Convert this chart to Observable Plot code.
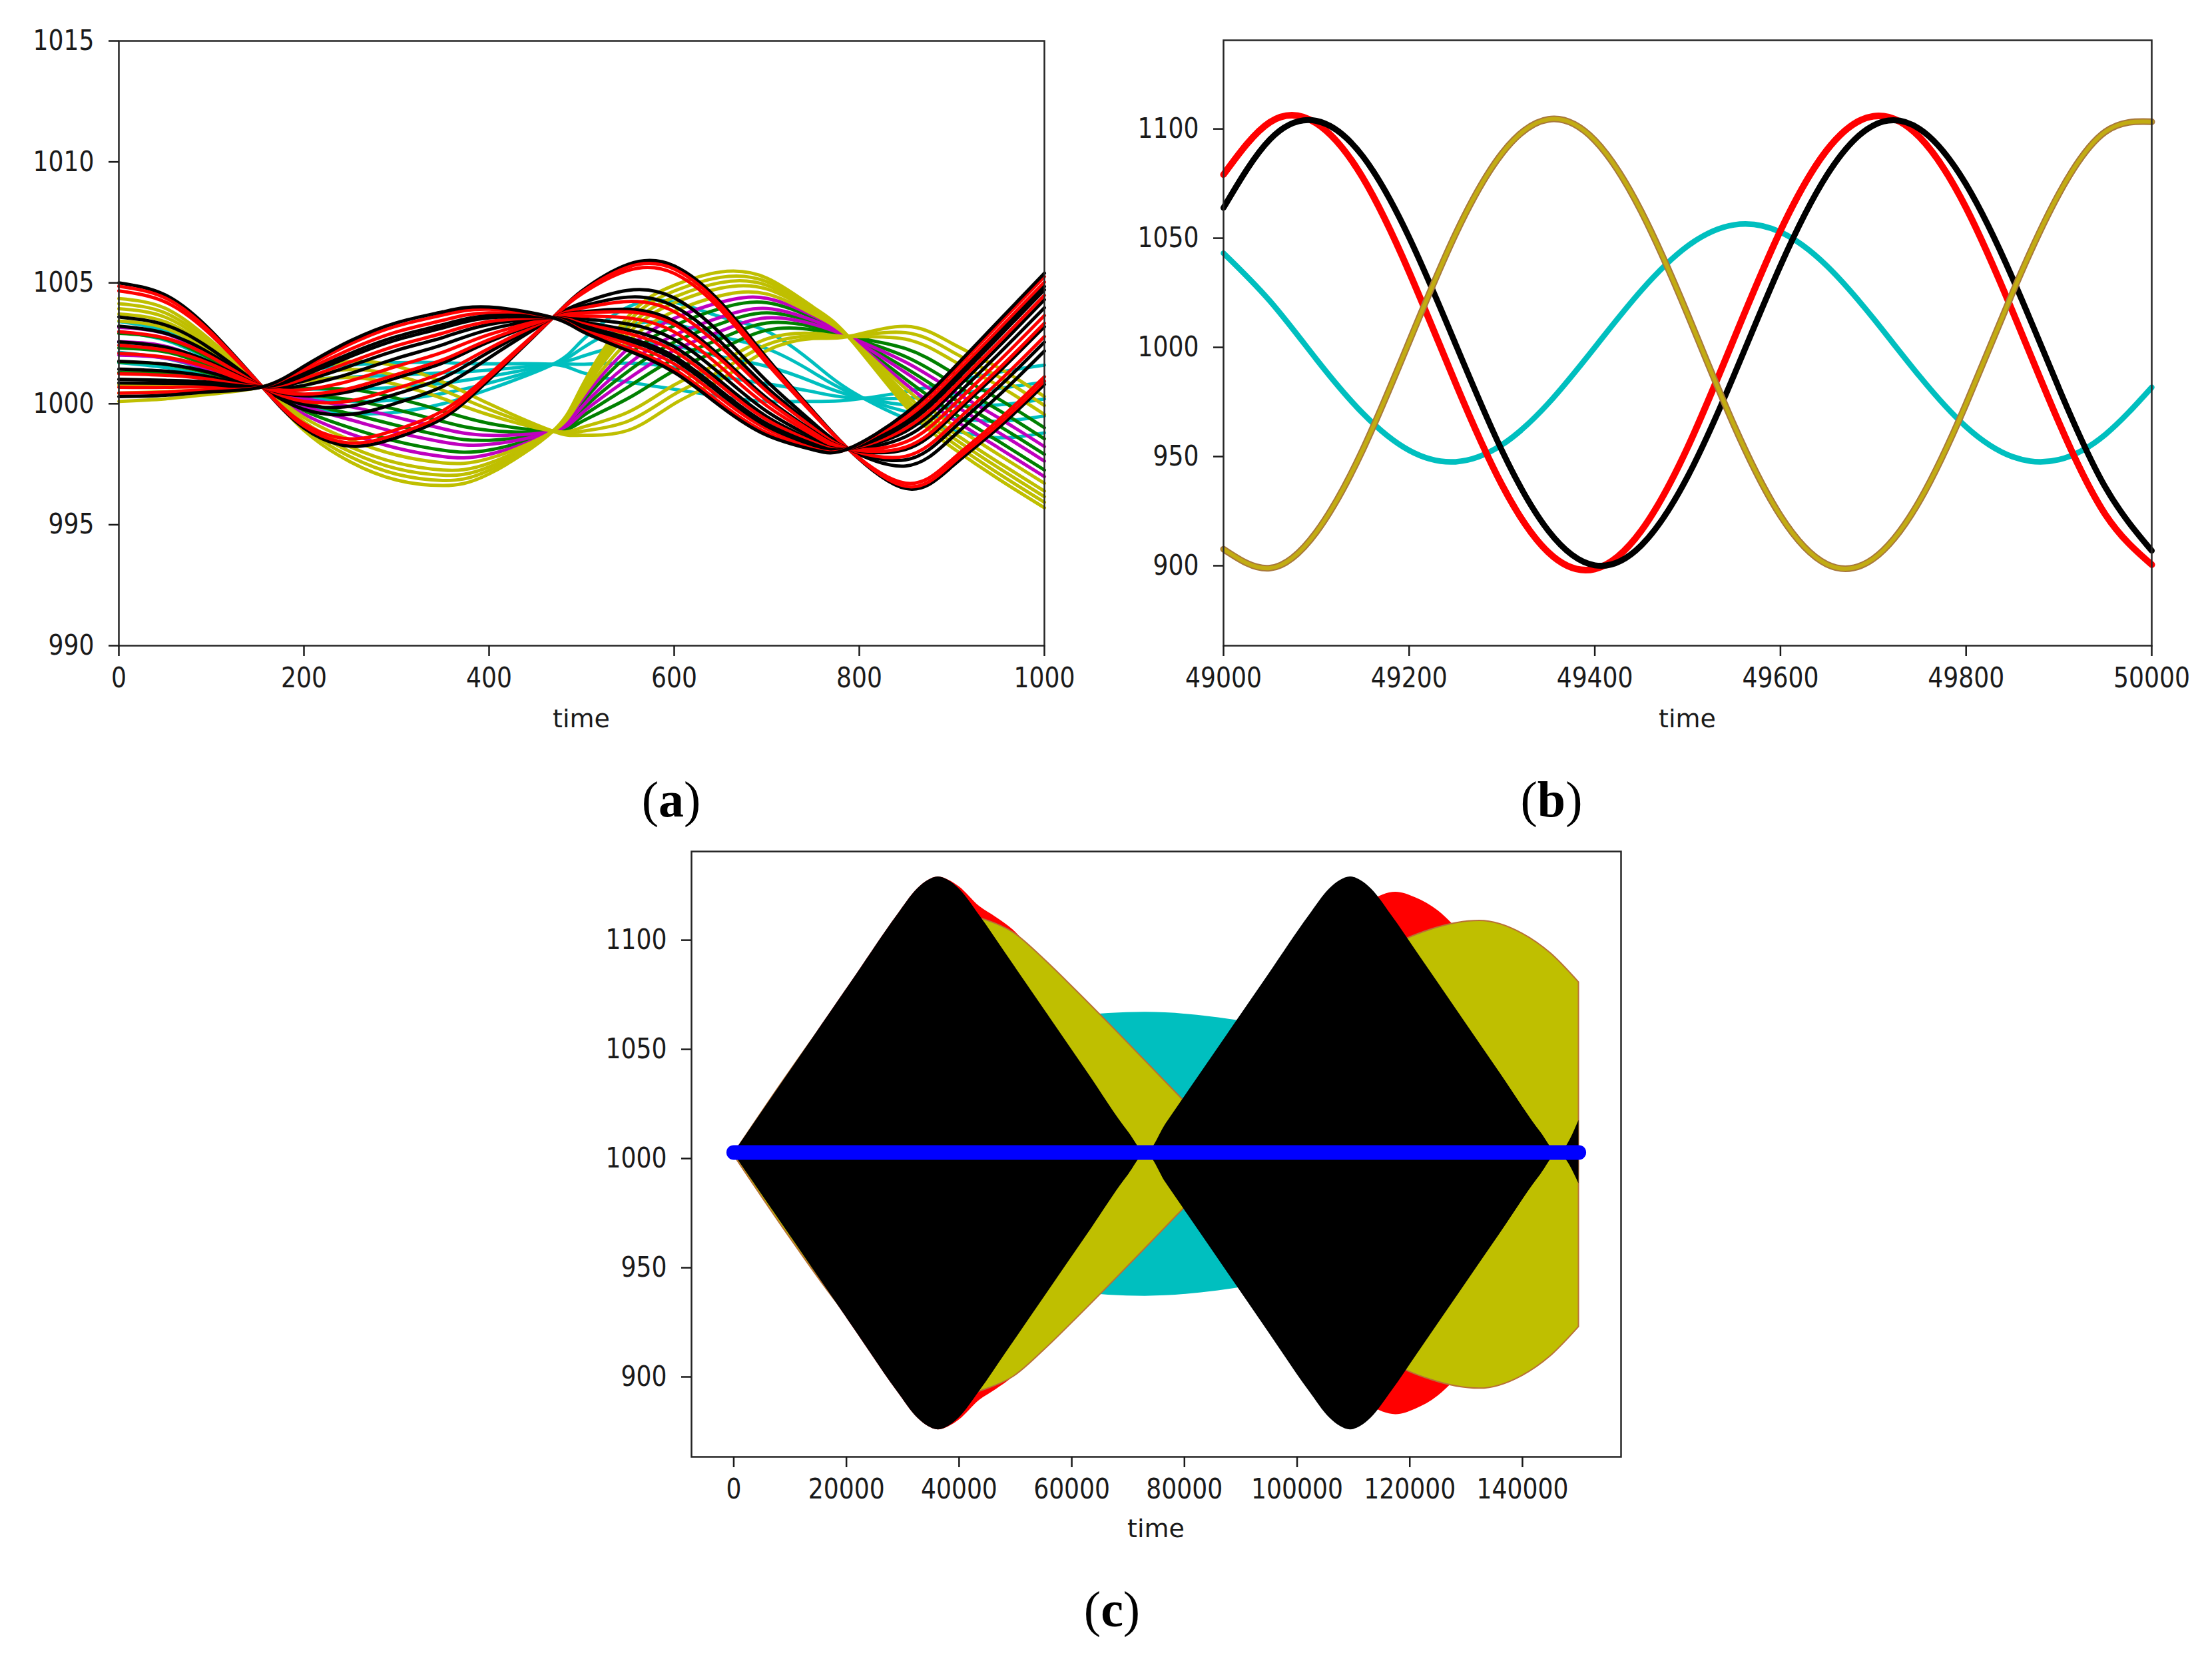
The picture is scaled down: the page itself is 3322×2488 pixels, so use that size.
<!DOCTYPE html>
<html><head><meta charset="utf-8">
<script src="https://cdn.jsdelivr.net/npm/d3@7"></script>
<script src="https://cdn.jsdelivr.net/npm/@observablehq/plot@0.6"></script>
<style>
html,body{margin:0;padding:0;background:#fff;}
#root{position:relative;width:3322px;height:2488px;background:#fff;overflow:hidden;}
#root svg{position:absolute;}
</style></head><body><div id="root"></div>
<script>
// ---------------- Panel (a) data ----------------
const aTime = [0,50,100,155,200,250,300,350,400,469,500,550,600,650,700,750,788,850,900,950,1000];
const aXTicks = [0,200,400,600,800,1000];
const aYTicks = [990,995,1000,1005,1010,1015];
const aBlackLines = [
 [1005.0,1004.5,1003.0,1000.7,999.0,998.25,998.6,999.4,1001.0,1003.56,1004.66,1005.76,1005.7,1004.2,1001.9,999.7,998.14,996.5,997.4,999.0,1000.8],
 [1003.59,1003.26,1002.25,1000.7,999.77,999.56,1000.03,1000.72,1001.9,1003.56,1004.16,1004.69,1004.38,1002.91,1000.94,999.22,998.14,997.43,998.6,1000.32,1002.18],
 [1003.21,1002.92,1002.05,1000.7,999.97,999.9,1000.41,1001.07,1002.14,1003.56,1004.03,1004.41,1004.03,1002.57,1000.68,999.09,998.14,997.68,998.92,1000.67,1002.55],
 [1002.56,1002.34,1001.7,1000.7,1000.33,1000.51,1001.07,1001.69,1002.56,1003.56,1003.8,1003.91,1003.41,1001.96,1000.24,998.87,998.14,998.11,999.48,1001.29,1003.19],
 [1001.76,1001.64,1001.28,1000.7,1000.76,1001.25,1001.88,1002.44,1003.07,1003.56,1003.52,1003.3,1002.66,1001.23,999.69,998.6,998.14,998.64,1000.16,1002.04,1003.97],
 [1001.43,1001.35,1001.1,1000.7,1000.94,1001.56,1002.21,1002.74,1003.28,1003.56,1003.4,1003.05,1002.36,1000.93,999.47,998.48,998.14,998.86,1000.44,1002.34,1004.3],
 [1001.01,1000.97,1000.88,1000.7,1001.17,1001.95,1002.64,1003.14,1003.55,1003.56,1003.25,1002.73,1001.96,1000.55,999.18,998.34,998.14,999.14,1000.8,1002.74,1004.71],
 [1000.86,1000.85,1000.8,1000.7,1001.24,1002.08,1002.78,1003.27,1003.64,1003.56,1003.2,1002.63,1001.83,1000.42,999.08,998.29,998.14,999.23,1000.92,1002.87,1004.85],
 [1000.3,1000.35,1000.5,1000.7,1001.55,1002.6,1003.35,1003.8,1004.0,1003.56,1003.0,1002.2,1001.3,999.9,998.7,998.1,998.14,999.6,1001.4,1003.4,1005.4]
];
const aRedLines = [
 [1004.86,1004.38,1002.93,1000.7,999.08,998.38,998.74,999.53,1001.09,1003.56,1004.61,1005.65,1005.57,1004.07,1001.8,999.65,998.14,996.59,997.52,999.13,1000.94],
 [1004.67,1004.21,1002.83,1000.7,999.18,998.55,998.93,999.71,1001.21,1003.56,1004.54,1005.51,1005.39,1003.9,1001.68,999.59,998.14,996.72,997.68,999.31,1001.12],
 [1002.98,1002.72,1001.93,1000.7,1000.1,1000.12,1000.64,1001.29,1002.29,1003.56,1003.95,1004.23,1003.81,1002.35,1000.52,999.01,998.14,997.83,999.12,1000.89,1002.78],
 [1002.42,1002.22,1001.63,1000.7,1000.4,1000.64,1001.21,1001.82,1002.65,1003.56,1003.75,1003.8,1003.28,1001.84,1000.14,998.82,998.14,998.21,999.6,1001.42,1003.33],
 [1002.09,1001.93,1001.45,1000.7,1000.58,1000.95,1001.55,1002.13,1002.86,1003.56,1003.63,1003.55,1002.97,1001.53,999.92,998.71,998.14,998.42,999.88,1001.73,1003.65],
 [1001.24,1001.18,1001.0,1000.7,1001.04,1001.73,1002.4,1002.92,1003.4,1003.56,1003.33,1002.91,1002.18,1000.76,999.34,998.42,998.14,998.98,1000.6,1002.52,1004.48],
 [1000.68,1000.68,1000.7,1000.7,1001.35,1002.25,1002.97,1003.45,1003.76,1003.56,1003.13,1002.49,1001.65,1000.24,998.96,998.23,998.14,999.35,1001.08,1003.05,1005.03],
 [1000.44,1000.48,1000.58,1000.7,1001.47,1002.47,1003.21,1003.67,1003.91,1003.56,1003.05,1002.31,1001.43,1000.03,998.8,998.15,998.14,999.51,1001.28,1003.27,1005.26]
];
const aYellowLines = [
 [1004.35,1003.95,1002.6,1000.7,998.9,997.6,996.85,996.62,997.1,998.87,1000.7,1003.6,1004.9,1005.45,1005.2,1004.0,1002.78,999.9,998.2,996.9,995.7],
 [1004.14,1003.76,1002.49,1000.7,999.02,997.81,997.09,996.83,997.25,998.87,1000.6,1003.37,1004.66,1005.23,1005.05,1003.94,1002.78,1000.07,998.42,997.13,995.93],
 [1003.93,1003.58,1002.38,1000.7,999.14,998.02,997.32,997.05,997.39,998.87,1000.5,1003.13,1004.41,1005.01,1004.9,1003.87,1002.78,1000.23,998.63,997.36,996.16],
 [1003.71,1003.39,1002.27,1000.7,999.26,998.22,997.56,997.26,997.54,998.87,1000.4,1002.9,1004.17,1004.78,1004.75,1003.81,1002.78,1000.4,998.85,997.59,996.39],
 [1003.42,1003.13,1002.12,1000.7,999.43,998.51,997.88,997.56,997.74,998.87,1000.26,1002.57,1003.82,1004.47,1004.54,1003.71,1002.78,1000.63,999.15,997.91,996.71],
 [1000.78,1000.8,1000.75,1000.7,1000.92,1001.09,1000.8,1000.22,999.54,998.87,999.02,999.65,1000.78,1001.71,1002.68,1002.91,1002.78,1002.67,1001.81,1000.76,999.56],
 [1000.44,1000.5,1000.58,1000.7,1001.11,1001.42,1001.17,1000.56,999.77,998.87,998.86,999.28,1000.39,1001.36,1002.44,1002.8,1002.78,1002.94,1002.16,1001.13,999.93],
 [1000.1,1000.2,1000.4,1000.7,1001.3,1001.75,1001.55,1000.9,1000.0,998.87,998.7,998.9,1000.0,1001.0,1002.2,1002.7,1002.78,1003.2,1002.5,1001.5,1000.3]
];
const aMagentaLines = [
 [1003.16,1002.9,1001.98,1000.7,999.57,998.76,998.17,997.82,997.91,998.87,1000.14,1002.28,1003.53,1004.2,1004.36,1003.64,1002.78,1000.82,999.4,998.19,996.99],
 [1002.57,1002.38,1001.68,1000.7,999.91,999.34,998.82,998.42,998.32,998.87,999.86,1001.63,1002.84,1003.58,1003.94,1003.45,1002.78,1001.29,1000.01,998.83,997.63],
 [1002.01,1001.89,1001.39,1000.7,1000.22,999.88,999.44,998.97,998.7,998.87,999.6,1001.02,1002.21,1003.0,1003.55,1003.29,1002.78,1001.72,1000.57,999.43,998.23]
];
const aGreenLines = [
 [1002.91,1002.68,1001.85,1000.7,999.72,999.01,998.45,998.08,998.09,998.87,1000.02,1002.0,1003.23,1003.94,1004.18,1003.56,1002.78,1001.02,999.66,998.46,997.26],
 [1002.31,1002.15,1001.54,1000.7,1000.05,999.59,999.11,998.67,998.49,998.87,999.74,1001.34,1002.55,1003.31,1003.76,1003.38,1002.78,1001.48,1000.26,999.11,997.91],
 [1001.72,1001.63,1001.24,1000.7,1000.39,1000.17,999.76,999.27,998.9,998.87,999.46,1000.69,1001.86,1002.69,1003.34,1003.19,1002.78,1001.95,1000.87,999.75,998.55],
 [1001.29,1001.25,1001.02,1000.7,1000.63,1000.59,1000.23,999.7,999.19,998.87,999.26,1000.22,1001.37,1002.25,1003.04,1003.06,1002.78,1002.28,1001.3,1000.21,999.01]
];
const aCyanLines = [
 [1003.4,1003.0,1002.0,1000.7,999.9,999.6,999.65,1000.0,1000.6,1001.63,1002.6,1004.0,1004.2,1003.6,1003.0,1001.7,1000.6,999.4,998.9,998.6,998.8],
 [1002.98,1002.63,1001.78,1000.7,1000.25,1000.1,1000.16,1000.43,1000.86,1001.63,1002.28,1003.23,1003.3,1002.78,1002.28,1001.3,1000.49,999.68,999.4,999.28,999.5],
 [1002.55,1002.25,1001.55,1000.7,1000.6,1000.6,1000.68,1000.85,1001.13,1001.63,1001.95,1002.45,1002.4,1001.95,1001.55,1000.9,1000.38,999.95,999.9,999.95,1000.2],
 [1002.13,1001.88,1001.33,1000.7,1000.95,1001.1,1001.19,1001.28,1001.39,1001.63,1001.63,1001.68,1001.5,1001.13,1000.83,1000.5,1000.26,1000.23,1000.4,1000.63,1000.9],
 [1001.7,1001.5,1001.1,1000.7,1001.3,1001.6,1001.7,1001.7,1001.65,1001.63,1001.3,1000.9,1000.6,1000.3,1000.1,1000.1,1000.15,1000.5,1000.9,1001.3,1001.6]
];

// ---------------- Panel (b) data ----------------
const bTime = [49000,49050,49100,49150,49200,49250,49300,49350,49400,49450,49500,49550,49600,49650,49700,49750,49800,49850,49900,49950,50000];
const bXTicks = [49000,49200,49400,49600,49800,50000];
const bYTicks = [900,950,1000,1050,1100];
const bRed   = [1079.1,1103.1,1102.6,1077.7,1034.5,983.6,937.0,906.1,898.5,916.0,954.2,1004.0,1053.4,1090.3,1105.8,1096.2,1063.9,1016.5,965.6,923.5,900.5];
const bBlack = [1063.9,1095.2,1103.7,1087.5,1050.3,1001.5,952.7,916.0,900.2,909.3,940.8,987.3,1037.4,1078.8,1101.6,1100.0,1074.6,1031.7,981.3,936.0,906.9];
const bOlive = [907.6,898.9,915.4,953.1,1002.6,1051.9,1088.8,1104.4,1094.8,1062.3,1015.1,964.3,922.9,900.7,903.2,929.8,974.1,1025.0,1070.3,1098.7,1103.3];
const bCyan  = [1043.1,1021.2,994.6,969.8,952.8,947.6,955.4,974.4,1000.0,1026.0,1046.4,1056.1,1052.8,1037.3,1013.3,986.7,963.6,949.9,948.6,960.1,981.7];

// ---------------- Panel (c) data ----------------
const cXTicks = [0,20000,40000,60000,80000,100000,120000,140000];
const cYTicks = [900,950,1000,1050,1100];
const cBlackT  = [0,3600,7250,14500,21750,29000,32600,34500,36300,38100,40000,43600,48350,55600,62850,70100,73150,76750,80400,87650,94900,102150,105750,107650,109450,111250,113150,116750,121500,128750,136000,143250,146300,150000];
const cBlackHi = [1002.6,1016.1,1029.8,1057.0,1084.2,1111.4,1123.5,1127.4,1129,1127.4,1123.5,1111.4,1093.6,1066.4,1039.2,1012.0,1002.6,1016.1,1029.8,1057.0,1084.2,1111.4,1123.5,1127.4,1129,1127.4,1123.5,1111.4,1093.6,1066.4,1039.2,1012.0,1002.6,1017.5];
const cBlackLo = [1002.2,988.7,975.0,947.8,920.6,893.4,881.3,877.4,875.8,877.4,881.3,893.4,911.2,938.4,965.6,992.8,1002.2,988.7,975.0,947.8,920.6,893.4,881.3,877.4,875.8,877.4,881.3,893.4,911.2,938.4,965.6,992.8,1002.2,988.5];
const cRedT  = [0,3600,7250,14500,21750,29000,32600,34500,36300,38100,40000,43600,46550,49560,55000,62000,70000,76000,78000,84000,92000,100000,108000,113000,117500,121000,125000,127600,132000,138000,144000,150000];
const cRedHi = [1002.6,1016.1,1029.8,1057.0,1084.2,1111.4,1123.5,1127.4,1129,1127.6,1124.5,1115.5,1110.5,1104.8,1088,1061,1030,1007,1002.6,1020,1052,1083,1108,1118,1122,1119.5,1113.5,1107.3,1094,1072,1047,1022];
const cRedLo = [1002.2,988.7,975.0,947.8,920.6,893.4,881.3,877.4,875.8,877.2,880.3,889.3,894.3,900.0,916.8,943.8,974.8,997.8,1002.2,984.8,952.8,921.8,896.8,886.8,882.8,885.3,891.3,897.5,910.8,932.8,957.8,982.8];
const cYellowT  = [0,10000,20000,30000,40000,45000,49560,55000,60450,67710,74970,78600,84000,89000,95000,105000,115000,123900,132400,140000,145000,150000];
const cYellowHi = [1002,1040,1075,1100,1112,1109,1103.6,1091.5,1077.8,1058.9,1039.6,1029.9,1015.5,1002,1028,1068,1094,1105,1108.9,1103,1094,1080.7];
const cYellowLo = [1001.6,963.6,928.6,903.6,891.6,894.6,900,912.1,925.8,944.7,964,973.7,988.1,1001.6,975.6,935.6,909.6,898.6,894.7,900.6,909.6,922.9];
const cCyanT  = [0,10000,20000,30000,40000,50000,60000,73000,86000,96000,106000,116000,126000,136000,146000,150000];
const cCyanHi = [1002,1016,1029.5,1042,1052,1060,1065,1067,1064.5,1060,1052,1042,1029.5,1016,1002,1006];
const cCyanLo = [1002,988,974.5,962,952,944,939,937,939.5,944,952,962,974.5,988,1002,998];
const cBlueT = [0,150000];
const cBlueV = [1002.8,1002.8];

// ---------------- helpers ----------------
const COLORS = {black:"#000000", red:"#ff0000", yellow:"#bfbf00", green:"#008000", magenta:"#bf00bf", cyan:"#00bfbf"};
const root = document.getElementById("root");
function place(svg, left, top){ svg.style.left = left + "px"; svg.style.top = top + "px"; root.appendChild(svg); }
function condense(svg, k){
  svg.querySelectorAll('g[aria-label="x-axis tick label"] text, g[aria-label="y-axis tick label"] text').forEach(t => {
    const L = t.getComputedTextLength();
    if (L > 0) { t.setAttribute("textLength", (L * k).toFixed(1)); t.setAttribute("lengthAdjust", "spacingAndGlyphs"); }
  });
}
const baseStyle = {fontFamily: "DejaVu Sans, sans-serif", background: "transparent", overflow: "visible", color: "#1a1a1a"};
function axes(xt, yt){
  return [
    Plot.frame({stroke: "#262626", strokeWidth: 2.5}),
    Plot.axisX({ticks: xt, tickSize: 16, tickPadding: 17, tickFormat: d => String(d), fontSize: 42, label: null, color: "#1a1a1a", strokeWidth: 2.5}),
    Plot.axisY({ticks: yt, tickSize: 15, tickPadding: 22, tickFormat: d => String(d), fontSize: 42, label: null, color: "#1a1a1a", strokeWidth: 2.5})
  ];
}
const toRows = (T, V) => T.map((t, i) => ({t, v: V[i]}));
const toBand = (T, H, L) => T.map((t, i) => ({t, hi: H[i], lo: L[i]}));

// ---------------- Panel (a) ----------------
const aSeries = [];
aCyanLines.forEach(v => aSeries.push({color: COLORS.cyan, v}));
aGreenLines.forEach(v => aSeries.push({color: COLORS.green, v}));
aMagentaLines.forEach(v => aSeries.push({color: COLORS.magenta, v}));
aYellowLines.forEach(v => aSeries.push({color: COLORS.yellow, v}));
for (let i = 0; i < Math.max(aBlackLines.length, aRedLines.length); i++) {
  if (aBlackLines[i]) aSeries.push({color: COLORS.black, v: aBlackLines[i]});
  if (aRedLines[i]) aSeries.push({color: COLORS.red, v: aRedLines[i]});
}
const aRows = [];
aSeries.forEach((s, id) => aTime.forEach((t, i) => aRows.push({id, t, v: s.v[i], color: s.color})));

const svgA = Plot.plot({
  width: 1700, height: 1060, marginLeft: 178, marginRight: 132, marginTop: 61, marginBottom: 91,
  style: baseStyle,
  x: {domain: [0, 1000]}, y: {domain: [990, 1015]},
  color: {type: "identity"},
  marks: [
    Plot.line(aRows, {x: "t", y: "v", z: "id", stroke: "color", strokeWidth: 5, curve: "natural"}),
    ...axes(aXTicks, aYTicks)
  ]
});
place(svgA, 0, 0); condense(svgA, 0.86);

// ---------------- Panel (b) ----------------
const svgB = Plot.plot({
  width: 1622, height: 1060, marginLeft: 137, marginRight: 91, marginTop: 60, marginBottom: 91,
  style: baseStyle,
  x: {domain: [49000, 50000]}, y: {domain: [863.4, 1140.6]},
  marks: [
    Plot.line(toRows(bTime, bCyan), {x: "t", y: "v", stroke: "#00bfbf", strokeWidth: 8.5, curve: "natural"}),
    Plot.line(toRows(bTime, bRed), {x: "t", y: "v", stroke: "#ff0000", strokeWidth: 10, curve: "natural"}),
    Plot.line(toRows(bTime, bBlack), {x: "t", y: "v", stroke: "#000000", strokeWidth: 9, curve: "natural"}),
    Plot.line(toRows(bTime, bOlive), {x: "t", y: "v", stroke: "#a8783c", strokeWidth: 10, curve: "natural"}),
    Plot.line(toRows(bTime, bOlive), {x: "t", y: "v", stroke: "#c2ac12", strokeWidth: 6, curve: "natural"}),
    ...axes(bXTicks, bYTicks)
  ]
});
place(svgB, 1700, 0); condense(svgB, 0.86);

// ---------------- Panel (c) ----------------
const svgC = Plot.plot({
  width: 1700, height: 1058, marginLeft: 178, marginRight: 126, marginTop: 58, marginBottom: 91,
  style: baseStyle,
  x: {domain: [-7500, 157500]}, y: {domain: [863.4, 1140.6]},
  marks: [
    Plot.areaY(toBand(cCyanT, cCyanHi, cCyanLo), {x: "t", y1: "lo", y2: "hi", fill: "#00bfbf", curve: "monotone-x"}),
    Plot.areaY(toBand(cRedT, cRedHi, cRedLo), {x: "t", y1: "lo", y2: "hi", fill: "#ff0000", curve: "monotone-x"}),
    Plot.areaY(toBand(cYellowT, cYellowHi, cYellowLo), {x: "t", y1: "lo", y2: "hi", fill: "#bfbf00", stroke: "#b87034", strokeWidth: 2, curve: "monotone-x"}),
    Plot.areaY(toBand(cBlackT, cBlackHi, cBlackLo), {x: "t", y1: "lo", y2: "hi", fill: "#000000", curve: "monotone-x"}),
    Plot.line(toRows(cBlueT, cBlueV), {x: "t", y: "v", stroke: "#0000ff", strokeWidth: 22, strokeLinecap: "round"}),
    ...axes(cXTicks, cYTicks)
  ]
});
place(svgC, 860, 1220); condense(svgC, 0.86);

// ---------------- labels & captions ----------------
const NS = "http://www.w3.org/2000/svg";
const over = document.createElementNS(NS, "svg");
over.setAttribute("width", 3322); over.setAttribute("height", 2488);
over.style.left = "0px"; over.style.top = "0px"; over.style.pointerEvents = "none";
const axisTitles = [{x: 873, y: 1092}, {x: 2534, y: 1092}, {x: 1736, y: 2308}];
axisTitles.forEach(p => {
  const t = document.createElementNS(NS, "text");
  t.setAttribute("x", p.x); t.setAttribute("y", p.y); t.setAttribute("text-anchor", "middle");
  t.setAttribute("font-family", "DejaVu Sans, sans-serif"); t.setAttribute("font-size", 38); t.setAttribute("fill", "#1a1a1a");
  t.textContent = "time"; over.appendChild(t);
});
const captions = [{s: "a", x: 1008, y: 1226}, {s: "b", x: 2330, y: 1226}, {s: "c", x: 1670, y: 2442}];
captions.forEach(c => {
  const t = document.createElementNS(NS, "text");
  t.setAttribute("x", c.x); t.setAttribute("y", c.y); t.setAttribute("text-anchor", "middle");
  t.setAttribute("font-family", "Liberation Serif, DejaVu Serif, serif"); t.setAttribute("font-size", 76); t.setAttribute("fill", "#000");
  t.appendChild(document.createTextNode("("));
  const b = document.createElementNS(NS, "tspan"); b.setAttribute("font-weight", "bold"); b.textContent = c.s; t.appendChild(b);
  t.appendChild(document.createTextNode(")"));
  over.appendChild(t);
});
root.appendChild(over);
</script></body></html>
